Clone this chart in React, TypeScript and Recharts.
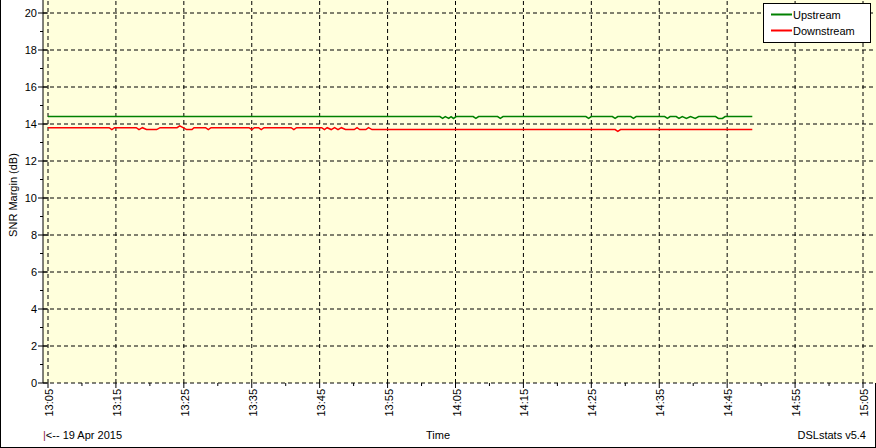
import { LineChart, Line, XAxis, YAxis, CartesianGrid, ReferenceLine } from "recharts"

// minutes after 13:00
const upTimes = [
  5, 62.7, 63.1, 63.5, 64.0, 64.35, 64.7, 65.1, 67.6, 68.0, 68.4, 71.2, 71.6, 72.0, 84.2, 84.6, 85.0, 88.1, 88.5,
  88.9, 90.8, 91.2, 91.6, 95.8, 96.2, 96.6, 97.5, 97.9, 98.4, 99.0, 99.6, 100.3, 100.8, 103.3, 103.7, 104.3, 104.7,
  108.7,
]
const upValues = [
  14.4, 14.4, 14.3, 14.4, 14.3, 14.4, 14.3, 14.4, 14.4, 14.3, 14.4, 14.4, 14.3, 14.4, 14.4, 14.3, 14.4, 14.4, 14.3,
  14.4, 14.4, 14.3, 14.4, 14.4, 14.3, 14.4, 14.4, 14.3, 14.4, 14.3, 14.4, 14.3, 14.4, 14.4, 14.3, 14.3, 14.4, 14.4,
]

const downTimes = [
  5, 14.0, 14.4, 14.8, 18.0, 18.4, 18.9, 19.5, 21.0, 21.5, 24.0, 24.4, 24.9, 25.4, 26.2, 26.5, 28.2, 28.6, 29.0, 34.6,
  35.0, 35.4, 36.0, 36.4, 36.8, 40.8, 41.2, 41.6, 45.3, 45.7, 46.1, 46.7, 47.2, 47.7, 48.2, 48.8, 50.1, 50.5, 50.9,
  51.8, 52.2, 52.7, 88.5, 88.9, 89.3, 108.7,
]
const downValues = [
  13.8, 13.8, 13.7, 13.8, 13.8, 13.7, 13.8, 13.7, 13.7, 13.8, 13.8, 13.9, 13.8, 13.7, 13.7, 13.8, 13.8, 13.7, 13.8, 13.8,
  13.7, 13.8, 13.8, 13.7, 13.8, 13.8, 13.7, 13.8, 13.8, 13.7, 13.8, 13.7, 13.8, 13.7, 13.8, 13.7, 13.7, 13.8, 13.7,
  13.7, 13.8, 13.7, 13.7, 13.6, 13.7, 13.7,
]

const timeTicks = [5, 10, 15, 20, 25, 30, 35, 40, 45, 50, 55, 60, 65, 70, 75, 80, 85, 90, 95, 100, 105, 110, 115, 120, 125]
const timeGrid = [5, 15, 25, 35, 45, 55, 65, 75, 85, 95, 105, 115, 125]
const snrTicks = [0, 1, 2, 3, 4, 5, 6, 7, 8, 9, 10, 11, 12, 13, 14, 15, 16, 17, 18, 19, 20]
const snrGrid = [0, 2, 4, 6, 8, 10, 12, 14, 16, 18, 20]

const upData = upTimes.map((t, i) => ({ t, snr: upValues[i] }))
const downData = downTimes.map((t, i) => ({ t, snr: downValues[i] }))

const FONT = "'Liberation Sans', Arial, sans-serif"

const fmtTime = (v: number) => {
  const h = 13 + Math.floor(v / 60)
  const m = v % 60
  return `${h}:${m < 10 ? "0" + m : m}`
}

const TimeTick = (props: any) => {
  const { x, y, payload } = props
  const major = (payload.value - 5) % 10 === 0
  return (
    <g>
      <line x1={x} y1={y} x2={x} y2={y + (major ? 5 : 3)} stroke="#000" />
      {major && (
        <text
          transform={`translate(${x + 5},${y + 6}) rotate(-90)`}
          textAnchor="end"
          fontSize={11}
          fontFamily={FONT}
          fill="#000"
        >
          {fmtTime(payload.value)}
        </text>
      )}
    </g>
  )
}

const SnrTick = (props: any) => {
  const { x, y, payload } = props
  const major = payload.value % 2 === 0
  return (
    <g>
      <line x1={major ? x - 5 : x - 3} y1={y} x2={major ? x + 5 : x} y2={y} stroke="#000" />
      {major && (
        <text x={x - 6} y={y} dy={4} textAnchor="end" fontSize={11} fontFamily={FONT} fill="#000">
          {payload.value}
        </text>
      )}
    </g>
  )
}

export default function App() {
  return (
    <div style={{ position: "absolute", left: 0, top: 0, width: 876, height: 448, background: "#fff" }}>
      <div
        style={{
          position: "absolute",
          inset: 0,
          borderLeft: "1px solid #000",
          borderRight: "1px solid #000",
          borderBottom: "1px solid #000",
          boxSizing: "border-box",
        }}
      />
      <div style={{ position: "absolute", left: 0, top: 0 }}>
        <LineChart width={876} height={448} margin={{ top: 0, right: 0, bottom: 0, left: 0 }}>
          <CartesianGrid fill="#FFFFDC" stroke="transparent" horizontal={false} vertical={false} />
          <XAxis
            dataKey="t"
            type="number"
            domain={[5, 125]}
            ticks={timeTicks}
            padding={{ left: 5, right: 13 }}
            height={65}
            axisLine={false}
            tickLine={false}
            tickSize={0}
            tickMargin={0}
            tick={<TimeTick />}
            interval={0}
            allowDataOverflow
          />
          <YAxis
            type="number"
            domain={[0, 20]}
            ticks={snrTicks}
            padding={{ top: 13, bottom: 0 }}
            width={43}
            axisLine={{ stroke: "#000" }}
            tickLine={false}
            tickSize={0}
            tickMargin={0}
            tick={<SnrTick />}
            interval={0}
          />
          {snrGrid.map((v) => (
            <ReferenceLine key={"h" + v} y={v} stroke="#000" strokeDasharray="4 3" />
          ))}
          {timeGrid.map((v) => (
            <ReferenceLine key={"v" + v} x={v} stroke="#000" strokeDasharray="4 3" />
          ))}
          <Line
            data={upData}
            dataKey="snr"
            type="linear"
            stroke="#008000"
            strokeWidth={1.5}
            dot={false}
            isAnimationActive={false}
          />
          <Line
            data={downData}
            dataKey="snr"
            type="linear"
            stroke="#FF0000"
            strokeWidth={1.5}
            dot={false}
            isAnimationActive={false}
          />
        </LineChart>
      </div>
      <svg
        width={876}
        height={448}
        style={{ position: "absolute", left: 0, top: 0, pointerEvents: "none" }}
        fontFamily={FONT}
        fontSize={11}
      >
        <text transform="translate(17,195) rotate(-90)" textAnchor="middle" fill="#000">
          SNR Margin (dB)
        </text>
        <rect x={763.5} y={3.5} width={107} height={39} fill="#fff" stroke="#000" />
        <line x1={771} y1={14.5} x2={792} y2={14.5} stroke="#008000" strokeWidth={2} />
        <text x={793} y={18.5} fill="#000">
          Upstream
        </text>
        <line x1={771} y1={30.5} x2={792} y2={30.5} stroke="#FF0000" strokeWidth={2} />
        <text x={793} y={34.5} fill="#000">
          Downstream
        </text>
        <text x={43} y={439} fill="#000">
          <tspan fill="#8B1A4A">|</tspan>
          {"<-- 19 Apr 2015"}
        </text>
        <text x={438} y={439} textAnchor="middle" fill="#000">
          Time
        </text>
        <text x={866} y={439} textAnchor="end" fill="#000">
          DSLstats v5.4
        </text>
      </svg>
    </div>
  )
}
